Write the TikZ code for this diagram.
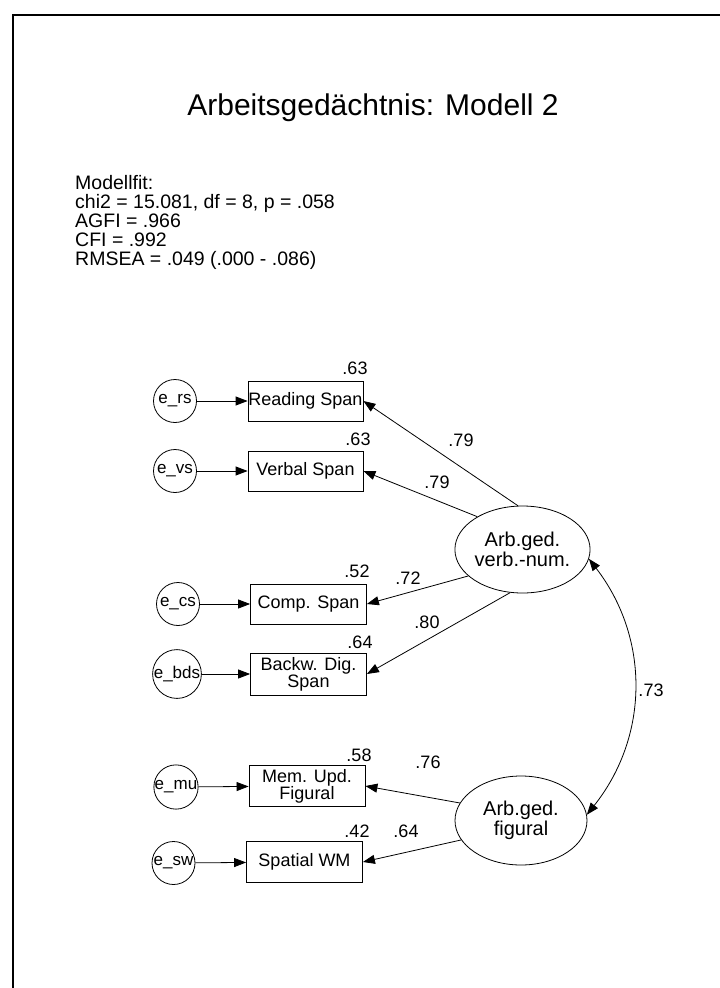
\documentclass[tikz,border=0pt]{standalone}
\usepackage{fontspec}
\setmainfont{Liberation Sans}
\usetikzlibrary{shapes.geometric,arrows.meta}
\begin{document}
\begin{tikzpicture}[x=1pt,y=-1pt,
  obs/.style={draw, rectangle, minimum width=115pt, minimum height=40pt, inner sep=0pt, align=center, font=\fontsize{18}{17}\selectfont, line width=0.8pt},
  err/.style={draw, circle, minimum size=43pt, inner sep=0pt, font=\fontsize{17}{17}\selectfont, line width=0.8pt},
  lat/.style={draw, ellipse, minimum width=132pt, minimum height=87pt, inner sep=0pt, align=center, font=\fontsize{20}{20}\selectfont, line width=0.8pt},
  lbl/.style={font=\fontsize{18}{18}\selectfont, inner sep=0pt},
  fitline/.style={anchor=base west, font=\fontsize{19.5}{19.5}\selectfont, inner sep=0pt},
  arr/.style={-{Triangle[length=12pt,width=9pt]}, line width=0.8pt},
  dbl/.style={{Triangle[length=12pt,width=9pt]}-{Triangle[length=12pt,width=9pt]}, line width=0.8pt},
]
\clip (0,0) rectangle (720,988);
\fill[white] (0,0) rectangle (720,988);
\draw[line width=1.6pt] (13,1000) -- (13,15) -- (730,15);

\node[font=\fontsize{30}{30}\selectfont, inner sep=0pt] (title) at (373,108) {Arbeitsgedächtnis: Modell 2};
\node[fitline] (fit1) at (75,189) {Modellfit:};
\node[fitline] (fit2) at (75,208) {chi2 = 15.081, df = 8, p = .058};
\node[fitline] (fit3) at (75,227) {AGFI = .966};
\node[fitline] (fit4) at (75,246) {CFI = .992};
\node[fitline] (fit5) at (75,265) {RMSEA = .049 (.000 - .086)};

% observed
\node[obs] (rs) at (305.5,401) {Reading Span};
\node[obs] (vs) at (305.5,471) {Verbal Span};
\node[obs, minimum width=116pt] (cs) at (308.5,604) {Comp. Span};
\node[obs, minimum width=116pt, minimum height=42pt] (bds) at (308.5,674) {Backw. Dig.\\Span};
\node[obs, minimum width=116pt, minimum height=41pt] (mu) at (307,786) {Mem. Upd.\\Figural};
\node[obs, minimum width=116pt, minimum height=41pt] (sw) at (304.5,862) {Spatial WM};

% errors
\node[err] (ers) at (175,401) {e\_rs};
\node[err] (evs) at (175,471) {e\_vs};
\node[err] (ecs) at (178,604) {e\_cs};
\node[err] (ebds) at (177,674) {e\_bds};
\node[err] (emu) at (176,787) {e\_mu};
\node[err] (esw) at (173.5,863) {e\_sw};

% latents
\node[lat] (f1) at (522.5,549.5) {Arb.ged.\\verb.-num.};
\node[lat, minimum height=89pt] (f2) at (521,820.5) {Arb.ged.\\figural};

% error arrows
\draw[arr] (ers) -- (rs);
\draw[arr] (evs) -- (vs);
\draw[arr] (ecs) -- (cs);
\draw[arr] (ebds) -- (bds);
\draw[arr] (emu) -- (mu);
\draw[arr] (esw) -- (sw);

% loadings
\draw[arr] (f1.96) -- (rs.east);
\draw[arr] (f1.144) -- (vs.east);
\draw[arr] (f1.206) -- (cs.east);
\draw[arr] (f1.254) -- (bds.east);
\draw[arr] (f2.164) -- (mu.east);
\draw[arr] (f2.198) -- (sw.east);

% covariance
\draw[dbl] (f1.-8) to[bend left=38] (f2.5);

% labels
\node[lbl] (r1) at (355,368) {.63};
\node[lbl] (r2) at (358,439) {.63};
\node[lbl] (r3) at (357,571) {.52};
\node[lbl] (r4) at (360,642) {.64};
\node[lbl] (r5) at (359,755) {.58};
\node[lbl] (r6) at (357,831) {.42};
\node[lbl] (l1) at (461,440) {.79};
\node[lbl] (l2) at (437,482) {.79};
\node[lbl] (l3) at (408,578) {.72};
\node[lbl] (l4) at (427,622) {.80};
\node[lbl] (l5) at (428,762) {.76};
\node[lbl] (l6) at (406,831) {.64};
\node[lbl] (c1) at (651,690) {.73};
\end{tikzpicture}
\end{document}
